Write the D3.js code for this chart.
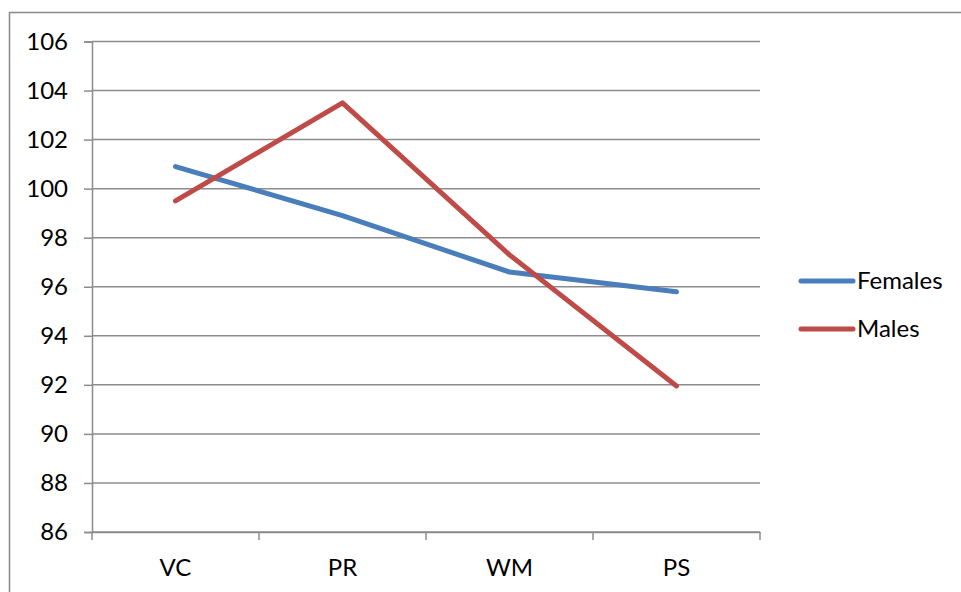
<!DOCTYPE html>
<html>
<head>
<meta charset="utf-8">
<script src="https://cdn.jsdelivr.net/npm/d3@7"></script>
<style>
  body { margin: 0; background: #fff; }
  text { font-family: Lato, "Open Sans", sans-serif; fill: #000; }
</style>
</head>
<body>
<script>
// data
var categories = ["VC", "PR", "WM", "PS"];
var females = [100.9, 98.9, 96.6, 95.8];
var males = [99.5, 103.5, 97.3, 91.95];
var yTicks = [86, 88, 90, 92, 94, 96, 98, 100, 102, 104, 106];
var seriesNames = ["Females", "Males"];
var seriesColors = ["#4a7ebb", "#be4b48"];

var width = 961, height = 592;

var svg = d3.select("body")
    .append("svg")
    .attr("width", width)
    .attr("height", height);

// outer frame (only top and left visible)
svg.append("path")
    .attr("d", "M9.5,592 V12.5 H961")
    .attr("fill", "none")
    .attr("stroke", "#888")
    .attr("stroke-width", 1.5);

var xScale = d3.scaleBand()
    .domain(categories)
    .range([92, 760]);

var yScale = d3.scaleLinear()
    .domain([86, 106])
    .range([532, 41.5]);

// gridlines
svg.append("g")
    .selectAll("line")
    .data(yTicks)
    .enter()
    .append("line")
    .attr("x1", 92)
    .attr("x2", 760)
    .attr("y1", function(d) { return yScale(d); })
    .attr("y2", function(d) { return yScale(d); })
    .attr("stroke", "#8c8c8c")
    .attr("stroke-width", 1.5);

// y axis
var yAxis = d3.axisLeft(yScale)
    .tickValues(yTicks)
    .tickSize(8)
    .tickPadding(16);

var gy = svg.append("g")
    .attr("transform", "translate(92,0)")
    .call(yAxis);
gy.select(".domain").attr("stroke", "#8c8c8c").attr("stroke-width", 1.5);
gy.selectAll(".tick line").attr("stroke", "#8c8c8c").attr("stroke-width", 1.5);
gy.selectAll("text").style("font-size", "24px").attr("fill", "#000");

// x axis: ticks on category boundaries
var xAxis = d3.axisBottom(xScale).tickSize(0).tickPadding(27);
var gx = svg.append("g")
    .attr("transform", "translate(0,532)")
    .call(xAxis);
gx.select(".domain").attr("stroke", "#8c8c8c").attr("stroke-width", 1.5);
gx.selectAll("text").style("font-size", "24px").attr("fill", "#000");

var bounds = categories.map(function(c) { return xScale(c); }).concat([760]);
gx.selectAll(".bound")
    .data(bounds)
    .enter()
    .append("line")
    .attr("class", "bound")
    .attr("x1", function(d) { return d; })
    .attr("x2", function(d) { return d; })
    .attr("y1", 0)
    .attr("y2", 8)
    .attr("stroke", "#8c8c8c")
    .attr("stroke-width", 1.5);

// lines
var line = d3.line()
    .x(function(d, i) { return xScale(categories[i]) + xScale.bandwidth() / 2; })
    .y(function(d) { return yScale(d); });

[females, males].forEach(function(s, i) {
    svg.append("path")
        .datum(s)
        .attr("d", line)
        .attr("fill", "none")
        .attr("stroke", seriesColors[i])
        .attr("stroke-width", 5)
        .attr("stroke-linecap", "round")
        .attr("stroke-linejoin", "round");
});

// legend
var legend = svg.append("g");
seriesNames.forEach(function(name, i) {
    var y = 281 + i * 48;
    legend.append("line")
        .attr("x1", 801)
        .attr("x2", 853)
        .attr("y1", y)
        .attr("y2", y)
        .attr("stroke", seriesColors[i])
        .attr("stroke-width", 5)
        .attr("stroke-linecap", "round");
    legend.append("text")
        .attr("x", 857)
        .attr("y", y + 8)
        .style("font-size", "24px")
        .text(name);
});
</script>
</body>
</html>
